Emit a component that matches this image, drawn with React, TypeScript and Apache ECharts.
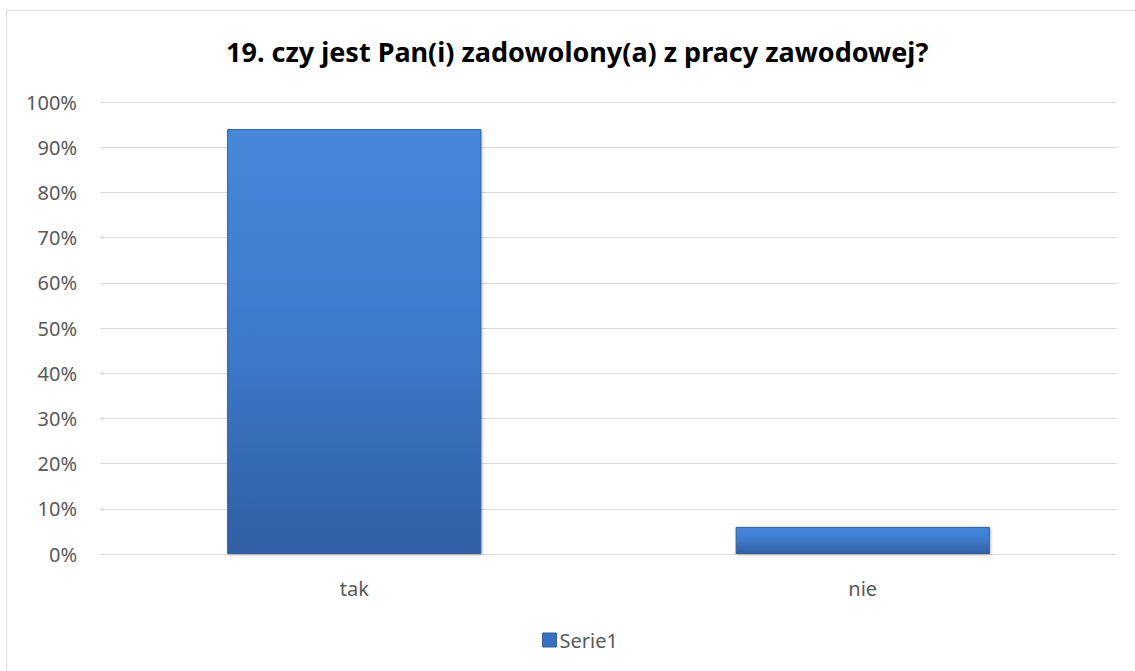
import React, { useEffect, useRef } from "react";
import * as echarts from "echarts";

const categories = ["tak", "nie"];
const values = [0.94, 0.06];
const seriesName = "Serie1";
const titleText = "19. czy jest Pan(i) zadowolony(a) z pracy zawodowej?";

export default function App() {
  const ref = useRef<HTMLDivElement>(null);
  useEffect(() => {
    document.body.style.margin = "0";
    const chart = echarts.init(ref.current!, null, { renderer: "svg" });
    const barColor = new echarts.graphic.LinearGradient(0, 0, 0, 1, [
      { offset: 0, color: "#4688dc" },
      { offset: 0.5, color: "#3d7acb" },
      { offset: 1, color: "#305ea2" },
    ]);
    chart.setOption({
      animation: false,
      backgroundColor: "#ffffff",
      graphic: [
        {
          type: "rect",
          shape: { x: 6.5, y: 10.5, width: 1140, height: 680 },
          style: { fill: "none", stroke: "#d9d9d9", lineWidth: 1 },
          silent: true,
        },
      ],
      title: {
        text: titleText,
        left: 221,
        top: 33,
        textStyle: {
          fontFamily: "Noto Sans",
          fontWeight: "bold",
          fontSize: 27,
          color: "#000000",
        },
      },
      legend: {
        bottom: 16,
        left: 537,
        itemWidth: 14,
        itemHeight: 14,
        itemGap: 4,
        icon: "rect",
        textStyle: { fontFamily: "Noto Sans", fontSize: 20, color: "#595959", padding: [0, 0, 0, -2] },
        data: [{ name: seriesName, itemStyle: { color: "#3a72c0", borderColor: "#2f5f9f", borderWidth: 1 } }],
      },
      grid: { left: 100, right: 18, top: 102, bottom: 117, containLabel: false },
      xAxis: {
        type: "category",
        data: categories,
        axisLine: { lineStyle: { color: "#d9d9d9", width: 1 } },
        axisTick: { show: false },
        axisLabel: { fontFamily: "Noto Sans", fontSize: 20, color: "#595959", margin: 24 },
      },
      yAxis: {
        type: "value",
        min: 0,
        max: 1,
        interval: 0.1,
        axisLine: { show: false },
        axisTick: { show: false },
        splitLine: { lineStyle: { color: "#d9d9d9", width: 1 } },
        axisLabel: {
          fontFamily: "Noto Sans",
          fontSize: 20,
          color: "#595959",
          margin: 23,
          formatter: (v: number) => Math.round(v * 100) + "%",
        },
      },
      series: [
        {
          name: seriesName,
          type: "bar",
          data: values,
          barWidth: "50%",
          itemStyle: {
            color: barColor,
            borderColor: "#2f5f9f",
            borderWidth: 1,
            shadowColor: "rgba(0,0,0,0.25)",
            shadowBlur: 3,
            shadowOffsetX: 1,
            shadowOffsetY: 1,
          },
        },
      ],
    });
    return () => chart.dispose();
  }, []);
  return (
    <div
      ref={ref}
      style={{ position: "absolute", left: 0, top: 0, width: 1135, height: 671 }}
    />
  );
}
